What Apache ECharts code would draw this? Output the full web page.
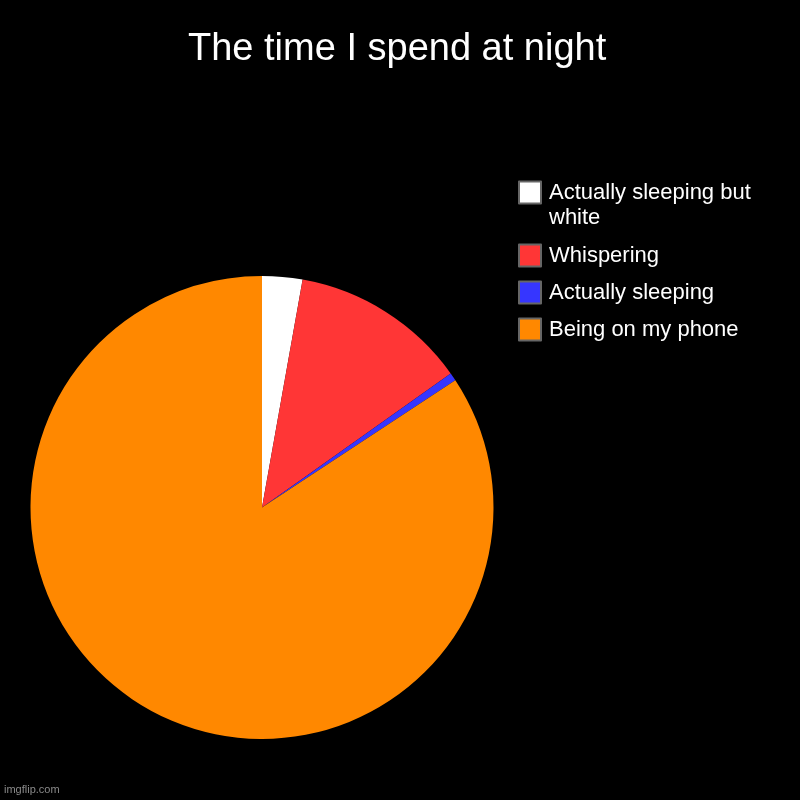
<!DOCTYPE html>
<html>
<head>
<meta charset="utf-8">
<script src="https://cdn.jsdelivr.net/npm/echarts@6/dist/echarts.min.js"></script>
<style>
  html, body { margin: 0; padding: 0; background: #000; }
  #chart { width: 800px; height: 800px; }
</style>
</head>
<body>
<div id="chart"></div>
<script>
// Pie of how the night gets spent, imgflip style.
const categories = ['Actually sleeping but white', 'Whispering', 'Actually sleeping', 'Being on my phone'];
const values = [5, 22, 1, 150];
const colors = ['#ffffff', '#ff3636', '#3636ff', '#ff8800'];

const FONT = 'Liberation Sans, Arial, sans-serif';

const chart = echarts.init(document.getElementById('chart'));

const legendText = {
    color: '#ffffff',
    fontSize: 22,
    lineHeight: 25,
    fontFamily: FONT,
    width: 240,
    overflow: 'break',
    padding: [0, 0, 0, 3]
};
const legendIcon = { borderColor: '#666666', borderWidth: 2 };

chart.setOption({
    animation: false,
    backgroundColor: '#000000',
    title: [
        {
            text: 'The time I spend at night',
            left: 188,
            top: 30,
            padding: 0,
            textStyle: { color: '#ffffff', fontSize: 38, fontWeight: 'normal', lineHeight: 40, fontFamily: FONT }
        },
        {
            text: 'imgflip.com',
            left: 4,
            top: 784,
            padding: 0,
            textStyle: { color: '#8a8a8a', fontSize: 11, fontWeight: 'normal', lineHeight: 12, fontFamily: FONT }
        }
    ],
    // first entry wraps onto two lines; a blank leading line keeps its box beside the first line
    legend: [
        {
            orient: 'vertical',
            left: 518,
            top: 155,
            padding: 0,
            itemWidth: 22,
            itemHeight: 22,
            icon: 'rect',
            selectedMode: false,
            data: categories.slice(0, 1),
            formatter: name => '\n' + name,
            itemStyle: legendIcon,
            textStyle: legendText
        },
        {
            orient: 'vertical',
            left: 518,
            top: 243,
            padding: 0,
            itemGap: 12,
            itemWidth: 22,
            itemHeight: 22,
            icon: 'rect',
            selectedMode: false,
            data: categories.slice(1),
            itemStyle: legendIcon,
            textStyle: legendText
        }
    ],
    series: [
        {
            type: 'pie',
            center: [262, 507.5],
            radius: 231.5,
            startAngle: 90,
            clockwise: true,
            avoidLabelOverlap: false,
            label: { show: false },
            labelLine: { show: false },
            emphasis: { disabled: true },
            itemStyle: { borderWidth: 0 },
            data: categories.map((name, i) => ({
                name: name,
                value: values[i],
                itemStyle: { color: colors[i] }
            }))
        }
    ]
});
</script>
</body>
</html>
